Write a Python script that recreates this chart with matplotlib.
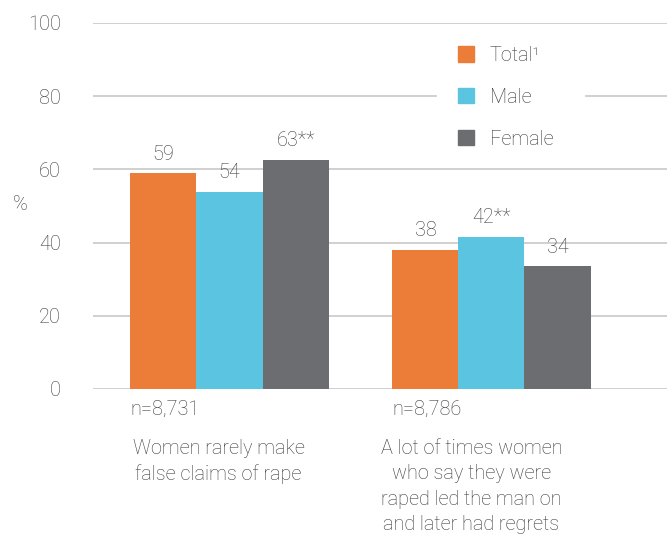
import matplotlib.pyplot as plt
import numpy as np
from matplotlib.patches import Patch, Rectangle

# data
groups = ['Women rarely make\nfalse claims of rape',
          'A lot of times women\nwho say they were\nraped led the man on\nand later had regrets']
sample_sizes = ['n=8,731', 'n=8,786']
series = ['Total\u00b9', 'Male', 'Female']
total = [58.9, 37.9]
male = [53.8, 41.5]
female = [62.6, 33.5]
total_lbl = ['59', '38']
male_lbl = ['54', '42**']
female_lbl = ['63**', '34']
colors = ['#eb7d39', '#5bc4e1', '#6c6d71']

plt.rcParams['font.family'] = ['Roboto', 'DejaVu Sans']
txt = '#3a3a3a'
fs = 14.3

fig = plt.figure(figsize=(6.67, 5.36), dpi=100)
ax = fig.add_axes([93 / 667, 1 - 389 / 536, 574 / 667, 366 / 536])
ax.set_axisbelow(True)

x = np.arange(len(groups))
w = 0.252
vals = [total, male, female]
lbls = [total_lbl, male_lbl, female_lbl]
for i in range(3):
    xs = x + (i - 1) * w
    ax.bar(xs, vals[i], w, color=colors[i], zorder=3, label=series[i])
    for xx, v, l in zip(xs, vals[i], lbls[i]):
        ax.text(xx, v + 2.7, l, ha='center', va='bottom', fontsize=fs,
                color=txt, fontweight='light')

ax.set_ylim(0, 100)
ax.set_xlim(-0.521, 1.67)
ax.set_yticks([0, 20, 40, 60, 80, 100])
ax.tick_params(axis='y', length=0, pad=23, labelsize=fs, labelcolor=txt)
ax.set_xticks([])
for s in ax.spines.values():
    s.set_visible(False)
ax.grid(axis='y', color='#c8c8c8', linewidth=1.2)
for lab in ax.get_yticklabels():
    lab.set_fontweight('light')

fig.text(20 / 667, 1 - 204 / 536, '%', fontsize=fs, color=txt,
         ha='center', va='center', fontweight='light')

# category labels sit a little left of the group centres in the original
label_shift = [-0.042, -0.076]
for xi, n in zip(x, sample_sizes):
    ax.text(xi - 1.5 * w, -3, n, ha='left', va='top', fontsize=fs,
            color=txt, fontweight='light')
    ax.text(xi + label_shift[int(xi)], -13.6, groups[int(xi)], ha='center',
            va='top', fontsize=fs, color=txt, fontweight='light',
            linespacing=1.43)

# white block behind the legend that breaks the 80 gridline
ax.add_patch(Rectangle((344 / 574, 0.62), 147 / 574, 0.3,
                       transform=ax.transAxes, color='white', zorder=2))

handles = [Patch(color=c) for c in colors]
leg = ax.legend(handles, series, loc='upper left',
                bbox_to_anchor=((438 - 93) / 574, 1 - 3 / 366),
                frameon=False,
                prop={'size': fs, 'weight': 'light'},
                handlelength=0.8, handleheight=0.8, handletextpad=0.8,
                labelspacing=1.15, borderpad=0.5, labelcolor=txt)
leg.set_zorder(5)

fig.savefig('out.png', dpi=100)
